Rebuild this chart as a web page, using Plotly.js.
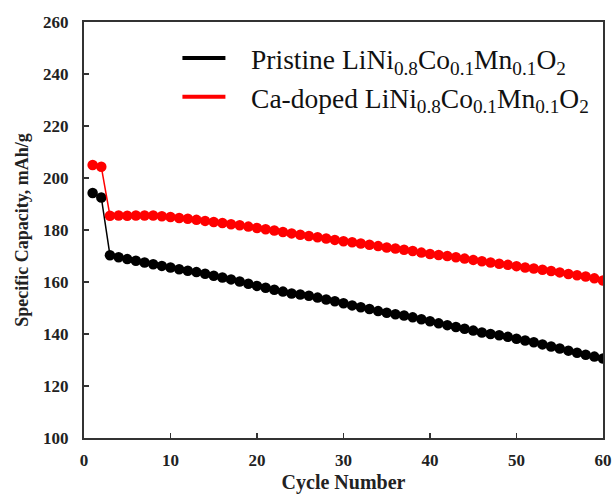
<!DOCTYPE html>
<html>
<head>
<meta charset="utf-8">
<script src="https://cdn.plot.ly/plotly-3.0.1.min.js"></script>
<style>html,body{margin:0;padding:0;background:#fff;}#chart{width:612px;height:495px;}</style>
</head>
<body>
<div id="chart"></div>
<script>
const cycles = Array.from({length: 60}, (_, i) => i + 1);
const pristine = [194.2,192.5,170.3,169.5,168.8,168.2,167.5,166.8,166.2,165.6,
  164.9,164.3,163.8,163.2,162.4,161.7,161.0,160.2,159.3,158.5,
  157.8,157.0,156.3,155.6,155.2,154.7,154.0,153.3,152.6,151.8,
  151.0,150.3,149.6,148.8,148.2,147.6,147.1,146.4,145.7,144.9,
  144.1,143.4,142.7,142.0,141.3,140.6,140.0,139.5,138.9,138.2,
  137.5,136.8,136.0,135.2,134.4,133.6,132.8,132.0,131.3,130.6];
const caDoped = [205.0,204.3,185.5,185.6,185.5,185.6,185.6,185.6,185.3,185.0,
  184.6,184.3,183.9,183.5,183.1,182.7,182.2,181.8,181.3,180.8,
  180.3,179.8,179.2,178.7,178.2,177.7,177.2,176.7,176.2,175.7,
  175.3,174.8,174.3,173.8,173.3,172.9,172.4,171.9,171.3,170.8,
  170.4,170.0,169.5,169.0,168.5,168.0,167.5,167.0,166.6,166.1,
  165.6,165.2,164.7,164.2,163.7,163.1,162.6,162.1,161.4,160.6];
const seriesNames = ['&nbsp;&nbsp;&nbsp;Pristine LiNi<sub>0.8</sub>Co<sub>0.1</sub>Mn<sub>0.1</sub>O<sub>2</sub>',
  '&nbsp;&nbsp;&nbsp;Ca-doped LiNi<sub>0.8</sub>Co<sub>0.1</sub>Mn<sub>0.1</sub>O<sub>2</sub>'];
const colors = ['#000000', '#ff0000'];

const traces = [
  {x: cycles, y: pristine, mode: 'lines+markers', showlegend: false,
   line: {color: colors[0], width: 1.5}, marker: {color: colors[0], size: 10.5}},
  {x: cycles, y: caDoped, mode: 'lines+markers', showlegend: false,
   line: {color: colors[1], width: 1.5}, marker: {color: colors[1], size: 10.5}},
  {x: [null], y: [null], mode: 'lines', name: seriesNames[0], line: {color: colors[0], width: 4}},
  {x: [null], y: [null], mode: 'lines', name: seriesNames[1], line: {color: colors[1], width: 4}}
];

const tickFont = {family: 'Liberation Serif', size: 17, color: '#222', weight: 'bold'};
const layout = {
  width: 612, height: 495,
  margin: {l: 84, r: 9, t: 22, b: 57},
  paper_bgcolor: '#fff', plot_bgcolor: '#fff',
  showlegend: true,
  legend: {x: 0.18, y: 0.972, xanchor: 'left', yanchor: 'top', bgcolor: 'rgba(0,0,0,0)',
    font: {family: 'Liberation Serif', size: 27.5, color: '#111'}, itemwidth: 43, tracegroupgap: 0},
  xaxis: {range: [0, 60], dtick: 10, ticks: 'inside', ticklen: 5, tickwidth: 1.5, tickcolor: '#333',
    showline: true, linecolor: '#333', linewidth: 2, mirror: true, showgrid: false, zeroline: false,
    tickfont: tickFont, ticklabelstandoff: 6,
    title: {text: '<b>Cycle Number</b>', font: {family: 'Liberation Serif', size: 20, color: '#222'}, standoff: 6}},
  yaxis: {range: [100, 260], dtick: 20, ticks: 'inside', ticklen: 5, tickwidth: 1.5, tickcolor: '#333',
    showline: true, linecolor: '#333', linewidth: 2, mirror: true, showgrid: false, zeroline: false,
    tickfont: tickFont, ticklabelstandoff: 10,
    title: {text: '<b>Specific Capacity, mAh/g</b>', font: {family: 'Liberation Serif', size: 18, color: '#222'}, standoff: 10}}
};
Plotly.newPlot('chart', traces, layout, {displayModeBar: false, staticPlot: true});
</script>
</body>
</html>
